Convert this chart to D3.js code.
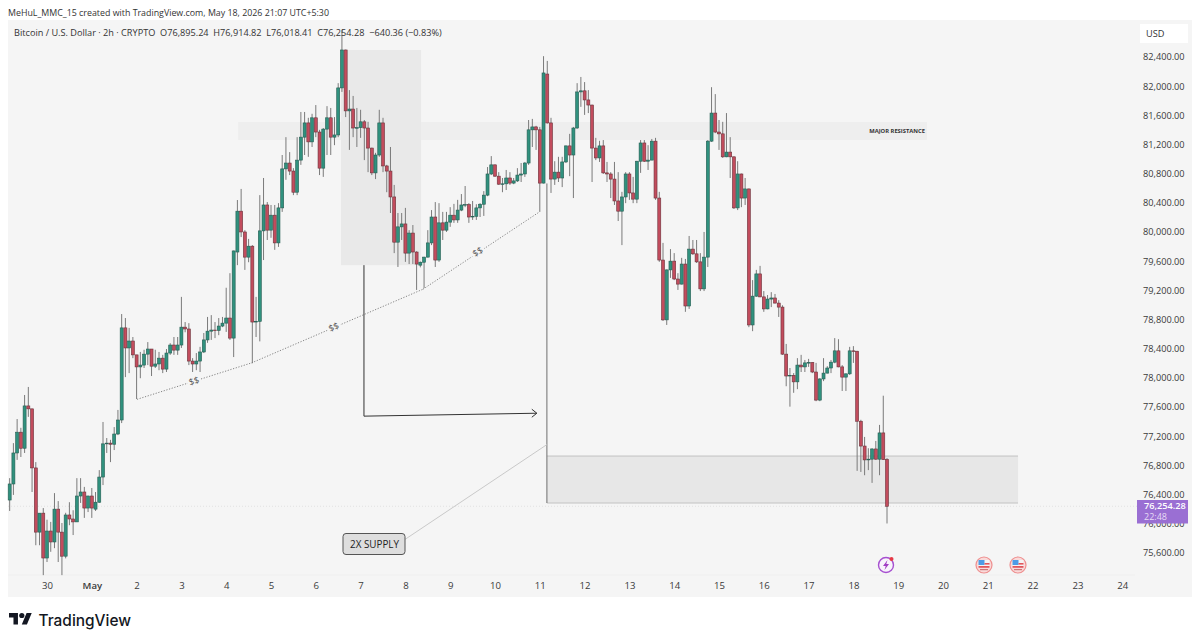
<!DOCTYPE html>
<html><head><meta charset="utf-8">
<script src="https://d3js.org/d3.v7.min.js"></script>
<style>
html,body{margin:0;padding:0;background:#fff;overflow:hidden}
svg{display:block}
text{font-family:"Open Sans","Noto Sans",sans-serif}
</style></head><body>
<div id="chart"></div>
<script>
const opens=[76340,76560,76985,77270,77050,77630,77590,76780,75900,76160,
75545,75915,75765,76215,75900,75570,76135,76080,76040,76395,
76450,76230,76395,76215,76310,76655,77110,77120,77105,77245,
77437,78700,78425,78520,78330,78165,78190,78340,78410,78175,
78205,78285,78135,78355,78465,78395,78465,78710,78685,78245,
78205,78245,78370,78535,78655,78670,78665,78725,78765,78835,
78560,79740,80300,80015,79670,79820,78780,78790,80030,80385,
80040,80245,79865,80345,80880,80960,80850,80560,81000,81315,
81510,81250,81580,81385,80890,81425,81580,81315,81345,81990,
82510,81675,81700,81440,81445,81525,81440,81165,80825,81070,
81510,80920,80850,80495,79875,80085,80125,79725,80000,79740,
79560,79600,79670,79865,80220,79630,80140,80040,80150,80245,
80180,80315,80385,80390,80220,80230,80345,80395,80520,80810,
80935,80780,80670,80675,80755,80685,80715,80795,80810,80960,
81415,81455,81415,80685,82180,81510,80740,80835,80755,80975,
81195,81070,81440,81935,81950,81825,81755,81165,81030,81195,
80825,80810,80740,80440,80300,80495,80810,80550,80465,80985,
81235,80985,81000,81260,80480,79630,78810,79495,79615,79370,
79300,79575,79000,79780,79715,79605,79235,79670,81260,81645,
81385,81360,81045,81110,81045,80345,80810,80480,80605,78740,
79135,79440,79125,78960,79095,79110,79040,78985,78340,78040,
78050,77960,78190,78165,78220,78225,78095,77710,78000,78080,
78150,78230,78385,78165,78025,78070,78385,78380,77420,77080,
76890,76900,77040,76900,77260,76895.24];
const closes=[76560,76985,77270,77050,77630,77590,76780,75900,76160,75545,
75915,75765,76215,75900,75570,76135,76080,76040,76395,76450,
76230,76395,76230,76310,76655,77110,77120,77105,77245,77437,
78700,78425,78520,78330,78165,78190,78340,78410,78175,78205,
78285,78135,78355,78465,78395,78465,78710,78685,78245,78205,
78245,78370,78535,78655,78670,78665,78725,78765,78835,78560,
79755,80300,80015,79670,79820,78780,78790,80030,80385,80040,
80245,79865,80345,80880,80960,80850,80560,81000,81315,81510,
81250,81580,81385,80890,81425,81580,81315,81345,81990,82510,
81675,81700,81440,81445,81525,81440,81165,80825,81070,81510,
80920,80850,80495,79875,80085,80125,79725,80000,79740,79575,
79600,79670,79865,80220,79630,80140,80040,80150,80245,80180,
80315,80385,80390,80220,80230,80345,80395,80520,80810,80935,
80780,80670,80675,80755,80685,80715,80795,80810,80960,81415,
81455,81415,80685,82195,81510,80740,80835,80755,80975,81195,
81070,81440,81935,81950,81825,81755,81165,81030,81195,80825,
80810,80740,80440,80300,80495,80810,80550,80465,80985,81235,
80985,81000,81260,80480,79630,78810,79495,79615,79370,79300,
79575,79000,79780,79715,79605,79235,79670,81260,81645,81385,
81360,81045,81110,81045,80345,80810,80480,80605,78740,79135,
79440,79125,78960,79095,79110,79040,78985,78340,78040,78050,
77960,78190,78165,78220,78225,78095,77710,78000,78080,78150,
78230,78385,78165,78025,78070,78385,78380,77420,77080,76890,
76900,77040,76900,77260,76895,76254.28];
const highs=[76640,77120,77450,77330,77780,77890,77590,76860,76160,76230,
76070,76040,76435,76325,76025,76165,76310,76200,76640,76640,
76520,76400,76505,76450,76750,77410,77190,77165,77340,77575,
78890,78835,78700,78575,78330,78370,78400,78505,78410,78400,
78370,78330,78410,78490,78575,78575,79125,78780,78765,78285,
78355,78440,78630,78850,78875,78780,78835,78850,79250,79450,
79760,80453,80605,80040,79920,79835,79125,80520,80755,80425,
80385,80385,80410,81070,81315,81110,80890,81315,81660,81660,
81580,81635,81755,81415,81440,81740,81715,81590,82055,82785,
82515,81960,81880,81715,81690,81550,81525,81170,81100,81690,
81580,80935,81180,80660,80275,80275,80345,80040,80110,79750,
79610,79675,80040,80315,80425,80410,80290,80290,80355,80400,
80455,80535,80645,80410,80440,80395,80410,80575,80905,81055,
80940,80835,80755,80865,80835,80755,80890,80960,80975,81550,
81565,81470,81455,82425,82360,81580,80985,81045,81045,81200,
81360,81455,82055,82140,82070,81960,81760,81305,81265,81275,
80975,80835,80975,80835,80565,80835,80835,80770,80990,81275,
81275,81205,81290,81305,80565,79865,79500,79780,79725,79450,
79660,79645,79960,79905,79905,79725,80015,81275,82000,81905,
81550,81525,81645,81315,81050,80985,80815,80755,80610,79355,
79495,79550,79205,79150,79190,79165,79080,79010,78480,78150,
78080,78285,78330,78260,78275,78230,78220,78010,78285,78175,
78260,78560,78545,78190,78075,78440,78450,78385,77440,77205,
77050,77050,77150,77370,77770,76914.82];
const lows=[76190,76410,76890,76930,76985,77480,76450,75720,75720,75310,
75490,75630,75680,75490,75310,75540,75995,75860,76040,76300,
76095,76175,76095,76190,76300,76545,76985,76860,77025,77230,
77395,78025,78080,78285,77725,78010,78150,78190,78040,78150,
78120,78080,78095,78330,78330,78330,78425,78640,78190,78095,
78120,78095,78355,78495,78535,78560,78600,78710,78645,78535,
78300,79560,79945,79495,79600,78215,78575,78515,79630,79905,
79935,79770,79810,80290,80730,80795,80520,80520,80935,81070,
81045,81180,81315,80795,80770,81070,81070,81205,81315,81935,
81590,81140,81315,81180,81305,81000,80835,80795,80740,81045,
80835,80560,80275,79725,79535,79905,79605,79575,79575,79220,
79530,79245,79665,79835,79535,79605,79905,80015,80085,80140,
80140,80300,80355,80140,80180,80180,80220,80235,80505,80795,
80770,80660,80560,80590,80660,80670,80700,80700,80770,80935,
81180,81140,80290,80680,81500,80550,80660,80700,80630,80960,
80780,80480,81430,81730,81620,81645,80700,81000,80975,80810,
80700,80480,80385,80165,79835,80410,80455,80410,80410,80825,
80975,80865,81000,80455,79605,78795,78740,79385,79355,79220,
79295,78920,78960,79700,79590,79205,79205,79535,81250,81370,
81140,81030,81040,80755,80330,80315,80355,80385,78710,78655,
79125,79120,78920,78955,78985,79035,78850,78330,77900,77620,
77810,77860,78095,78095,78165,78080,77695,77695,77970,78075,
78080,78215,78160,77835,77835,78055,78220,76740,76725,76680,
76750,76575,76890,76680,76890,76018.41];
const priceTicks=[82400,82000,81600,81200,80800,80400,80000,79600,79200,78800,78400,78000,77600,77200,76800,76400,76000,75600];
const dayLabels=["30","May","2","3","4","5","6","7","8","9","10","11","12","13","14","15","16","17","18","19","20","21","22","23","24"];
const firstDayBar=10, barsPerDay=12, lastPrice=76254.28;
// zones: [startBar, endBar, topPrice, bottomPrice]
const supplyZone=[88.75,110.2,82510,79560];
const resistanceZone=[61.2,245.7,81523,81276];
const targetZone=[143.9,270.1,76943,76299];
// annotation lines: [bar, price] vertices
const ssLine1=[[34.1,77720],[64.8,78220]];
const ssLine2=[[64.8,78220],[110.7,79230]];
const ssLine3=[[110.7,79230],[141.9,80290]];
const ssLabels=[[49.4,77970,-17],[86.8,78710,-23],[125.4,79740,-32]];
const dropArrow=[[94.9,79560],[94.9,77490],[141.2,77530]];
const targetStem=[[143.9,80680],[143.9,76299]];
const calloutLine=[[105.9,75800],[143.9,77100]];

const W=1200,H=643;
const svg=d3.select("#chart").append("svg").attr("width",W).attr("height",H);
svg.append("rect").attr("x",8).attr("y",20).attr("width",1184).attr("height",577).attr("fill","#f5f5f5");

const x=d3.scaleLinear().domain([0,235]).range([9.67,887]);
const y=d3.scaleLinear().domain([75600,82400]).range([554,58]);
const line=d3.line().x(d=>x(d[0])).y(d=>y(d[1]));

function zone(z,fill){return svg.append("rect").attr("x",x(z[0])).attr("y",y(z[2])).attr("width",x(z[1])-x(z[0])).attr("height",y(z[3])-y(z[2])).attr("fill",fill);}
zone(resistanceZone,"#eeeeee");
zone(supplyZone,"#e9e9e9");
zone(targetZone,"#e7e7e7");
[targetZone[2],targetZone[3]].forEach(p=>svg.append("line").attr("x1",x(targetZone[0])).attr("x2",x(targetZone[1])).attr("y1",y(p)).attr("y2",y(p)).attr("stroke","#c2c2c2").attr("stroke-width",1));
svg.append("text").attr("x",x(resistanceZone[1])-2).attr("y",y((resistanceZone[2]+resistanceZone[3])/2)+2).attr("text-anchor","end").attr("font-size",5.8).attr("font-weight",700).attr("fill","#333").text("MAJOR RESISTANCE");

// last price line
svg.append("line").attr("x1",8).attr("x2",1137).attr("y1",y(lastPrice)).attr("y2",y(lastPrice)).attr("stroke","#d9d9d9").attr("stroke-width",.7).attr("stroke-dasharray","1 2");
svg.append("line").attr("x1",8).attr("x2",1135).attr("y1",575).attr("y2",575).attr("stroke","#efefef");

// annotations below candles
svg.append("path").attr("d",line(targetStem)).attr("fill","none").attr("stroke","#6e6e6e").attr("stroke-width",1);
[ssLine1,ssLine2,ssLine3].forEach(l=>svg.append("path").attr("d",line(l)).attr("fill","none").attr("stroke","#777").attr("stroke-width",.9).attr("stroke-dasharray","1.2 1.6"));
svg.append("path").attr("d",line(calloutLine)).attr("fill","none").attr("stroke","#c9c9c9").attr("stroke-width",1);
ssLabels.forEach(d=>{
  const px=x(d[0]),py=y(d[1]);
  svg.append("rect").attr("x",px-7).attr("y",py-5).attr("width",14).attr("height",10).attr("fill","#f5f5f5").attr("transform",`rotate(${d[2]} ${px} ${py})`);
  svg.append("text").attr("x",px).attr("y",py+3).attr("text-anchor","middle").attr("font-size",9).attr("fill","#555").attr("transform",`rotate(${d[2]} ${px} ${py})`).text("$$");
});

// candles
const idx=d3.range(opens.length);
const g=svg.append("g");
g.selectAll("line").data(idx).join("line")
 .attr("x1",i=>x(i)).attr("x2",i=>x(i)).attr("y1",i=>y(highs[i])).attr("y2",i=>y(lows[i]))
 .attr("stroke","#7a7a7a").attr("stroke-width",1);
g.selectAll("rect").data(idx).join("rect")
 .attr("x",i=>x(i)-1.5).attr("width",3)
 .attr("y",i=>y(Math.max(opens[i],closes[i])))
 .attr("height",i=>Math.max(.6,Math.abs(y(opens[i])-y(closes[i]))))
 .attr("fill",i=>closes[i]>=opens[i]?"#30917e":"#c24c5d")
 .attr("stroke",i=>closes[i]>=opens[i]?"#255d52":"#6b323b").attr("stroke-width",.6);

// arrow
svg.append("path").attr("d",line(dropArrow)).attr("fill","none").attr("stroke","#333").attr("stroke-width",1);
const tip=dropArrow[2];
svg.append("path").attr("d",`M${x(tip[0])-5},${y(tip[1])-4}L${x(tip[0])},${y(tip[1])}L${x(tip[0])-5},${y(tip[1])+4}`).attr("fill","none").attr("stroke","#333").attr("stroke-width",1);

// callout
svg.append("rect").attr("x",343).attr("y",533.5).attr("width",62).attr("height",21).attr("rx",3).attr("fill","#dedede").attr("stroke","#555").attr("stroke-width",1);
svg.append("text").attr("x",350).attr("y",548).attr("font-size",11).attr("fill","#222").attr("textLength",49).attr("lengthAdjust","spacingAndGlyphs").text("2X SUPPLY");

// price axis
const yAxis=svg.append("g").attr("transform","translate(1140,0)")
 .call(d3.axisRight(y).tickValues(priceTicks).tickSize(0).tickFormat(d3.format(",.2f")));
yAxis.select(".domain").remove();
yAxis.selectAll("text").attr("x",3).attr("dy","0.2em").attr("font-size",9.2).attr("fill","#3a3a3a").style("font-family",'"Open Sans",sans-serif');
// time axis
const dayTicks=dayLabels.map((d,i)=>firstDayBar+i*barsPerDay);
const xAxis=svg.append("g").attr("transform","translate(0,586)")
 .call(d3.axisBottom(x).tickValues(dayTicks).tickSize(0).tickFormat((d,i)=>dayLabels[i]));
xAxis.select(".domain").remove();
xAxis.selectAll("text").attr("y",0).attr("dy","0.35em").attr("font-size",9.6).attr("fill","#3a3a3a").style("font-family",'"Open Sans",sans-serif').attr("font-weight",(d,i)=>dayLabels[i]==="May"?600:400);

// USD box and last price tag
svg.append("rect").attr("x",1140).attr("y",24).attr("width",48).attr("height",19).attr("fill","#fff");
svg.append("text").attr("x",1146).attr("y",37).attr("font-size",9.2).attr("fill","#333").text("USD");
svg.append("rect").attr("x",1137).attr("y",500).attr("width",51).attr("height",23.5).attr("fill","#9a6fd3");
svg.append("text").attr("x",1144).attr("y",509).attr("font-size",9.2).attr("font-weight",600).attr("fill","#fff").text(d3.format(",.2f")(lastPrice));
svg.append("text").attr("x",1144).attr("y",520).attr("font-size",9).attr("fill","#e6dbf5").text("22:48");

// titles
svg.append("text").attr("x",8).attr("y",15.5).attr("font-size",8.85).attr("fill","#333").text("MeHuL_MMC_15 created with TradingView.com, May 18, 2026 21:07 UTC+5:30");
svg.append("text").attr("x",14).attr("y",36).attr("font-size",9.17).attr("fill","#333").attr("xml:space","preserve").text("Bitcoin / U.S. Dollar · 2h · CRYPTO  O76,895.24  H76,914.82  L76,018.41  C76,254.28  −640.36 (−0.83%)");

// event icons
const ev=svg.append("g").attr("transform","translate(886,565)");
ev.append("circle").attr("r",7.5).attr("fill","#f8f4fb").attr("stroke","#a64fd0").attr("stroke-width",1.4);
ev.append("path").attr("d","M1.5,-5L-3,1H-.3L-1.5,5L3,-1H.3Z").attr("fill","#a23fc4");
ev.append("circle").attr("cx",5.5).attr("cy",-6).attr("r",2).attr("fill","#e53946");
[984,1018].forEach(cx=>{
  const f=svg.append("g").attr("transform",`translate(${cx},565)`);
  f.append("circle").attr("r",8).attr("fill","#f9d9d9").attr("stroke","#ee8f8f").attr("stroke-width",1.2);
  f.append("rect").attr("x",-5.5).attr("y",-5).attr("width",11).attr("height",8).attr("fill","#f4f4f4");
  f.append("rect").attr("x",-5.5).attr("y",-5).attr("width",6).attr("height",5).attr("fill","#4d9be6");
  f.append("rect").attr("x",.5).attr("y",-2).attr("width",5).attr("height",1.6).attr("fill","#e2555b");
  f.append("rect").attr("x",-5.5).attr("y",1).attr("width",11).attr("height",1.8).attr("fill","#e2555b");
  f.append("rect").attr("x",-4).attr("y",4).attr("width",8).attr("height",1.2).attr("fill","#c77");
});

// logo
svg.append("path").attr("transform","translate(9,610.4) scale(.64)").attr("d","M14 22H7V11H0V4h14v18zM28 22h-8l7.5-18h8L28 22z").attr("fill","#131722");
svg.append("circle").attr("cx",9+20*.64).attr("cy",610.4+8*.64).attr("r",2.6).attr("fill","#131722");
svg.append("text").attr("x",38.5).attr("y",625.5).attr("font-size",16).attr("font-weight",500).attr("fill","#131722").attr("textLength",92.5).attr("lengthAdjust","spacingAndGlyphs").style("font-family","Inter,sans-serif").text("TradingView");
</script>
</body></html>
